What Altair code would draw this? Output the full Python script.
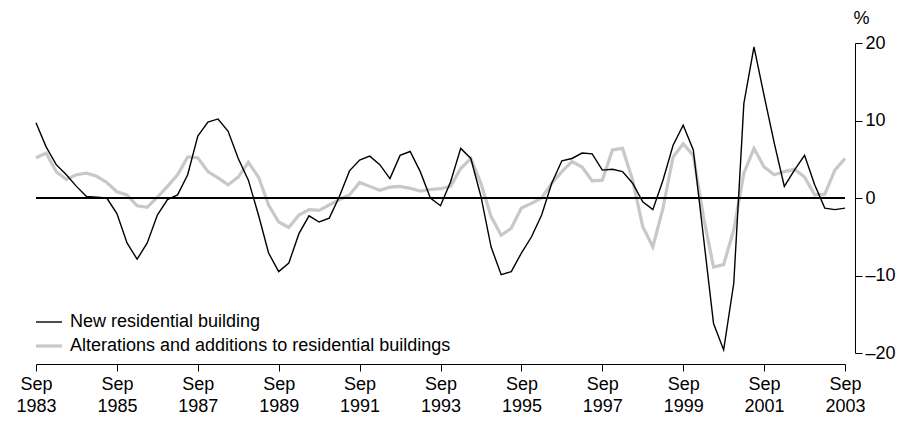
import altair as alt
import pandas as pd

series_names = ["New residential building",
                "Alterations and additions to residential buildings"]

# Quarterly, Sep 1983 .. Sep 2003 (81 quarters), % change
new_residential = [
    9.7, 6.6, 4.3, 3.0, 1.5, 0.2, 0.1, 0.0, -2.0, -5.8,
    -7.9, -5.8, -2.2, -0.2, 0.4, 3.0, 8.0, 9.8, 10.2, 8.6,
    5.1, 2.3, -2.2, -7.1, -9.5, -8.4, -4.6, -2.3, -3.1, -2.6,
    0.2, 3.5, 4.9, 5.4, 4.3, 2.5, 5.5, 6.0, 3.4, 0.0,
    -1.0, 2.1, 6.4, 5.1, 0.2, -6.3, -9.9, -9.5, -7.1, -5.0,
    -2.2, 1.9, 4.8, 5.1, 5.8, 5.7, 3.6, 3.7, 3.4, 1.9,
    -0.5, -1.5, 2.3, 6.8, 9.4, 6.2, -5.0, -16.2, -19.6, -11.0,
    12.2, 19.5, 13.2, 7.1, 1.5, 3.6, 5.5, 1.7, -1.3, -1.5,
    -1.3,
]
alterations = [
    5.2, 5.8, 3.4, 2.4, 3.0, 3.2, 2.8, 2.0, 0.8, 0.4,
    -1.0, -1.2, 0.1, 1.5, 3.0, 5.3, 5.2, 3.4, 2.6, 1.7,
    2.7, 4.6, 2.7, -0.9, -3.1, -3.8, -2.2, -1.5, -1.6, -0.9,
    -0.2, 0.4, 2.0, 1.5, 1.0, 1.4, 1.5, 1.25, 0.9, 1.1,
    1.2, 1.5, 3.8, 5.1, 1.9, -2.4, -4.8, -3.9, -1.3, -0.7,
    0.0, 1.9, 3.4, 4.7, 4.0, 2.2, 2.3, 6.2, 6.4, 2.3,
    -3.7, -6.3, -1.3, 5.3, 7.0, 5.5, -2.4, -8.9, -8.6, -4.1,
    3.2, 6.4, 4.0, 3.0, 3.4, 3.7, 2.7, 0.4, 0.5, 3.6,
    5.1,
]
tick_years = ["1983", "1985", "1987", "1989", "1991", "1993",
              "1995", "1997", "1999", "2001", "2003"]
y_ticks = [-20, -10, 0, 10, 20]

quarter_index = list(range(len(new_residential)))

df_new = pd.DataFrame({"q": quarter_index, "value": new_residential,
                       "series": series_names[0]})
df_alt = pd.DataFrame({"q": quarter_index, "value": alterations,
                       "series": series_names[1]})

FONT = "Liberation Sans"
FS = 18

years_js = "[" + ",".join("'" + y + "'" for y in tick_years) + "]"

x_enc = alt.X("q:Q",
              scale=alt.Scale(domain=[0, 80], nice=False, zero=False),
              axis=alt.Axis(values=[i * 8 for i in range(len(tick_years))],
                            labelExpr="['Sep', " + years_js + "[round(datum.value/8)]]",
                            title=None, grid=False, offset=11,
                            domainColor="black", tickColor="black",
                            tickSize=7, labelPadding=4, labelLineHeight=22,
                            labelFont=FONT, labelFontSize=FS, labelColor="black",
                            labelFlush=False))
y_enc = alt.Y("value:Q",
              scale=alt.Scale(domain=[-20, 20], nice=False),
              axis=alt.Axis(orient="right", values=y_ticks, offset=10,
                            grid=False, domainColor="black", tickColor="black",
                            tickSize=7, labelPadding=3,
                            labelExpr="datum.value < 0 ? '\u2013' + abs(datum.value) : '' + datum.value",
                            labelFont=FONT, labelFontSize=FS, labelColor="black",
                            title="%", titleAngle=0, titleAlign="center",
                            titleBaseline="middle", titleX=6, titleY=-25,
                            titleFont=FONT, titleFontSize=FS,
                            titleFontWeight="normal", titleColor="black"))

color_scale = alt.Scale(domain=series_names, range=["black", "#c8c8c8"])
width_scale = alt.Scale(domain=series_names, range=[1.4, 3.2])
legend = alt.Legend(title=None, orient="none", legendX=-2, legendY=265,
                    symbolType="stroke", symbolSize=676, labelFont=FONT,
                    labelFontSize=FS, labelColor="black", labelOffset=6,
                    labelLimit=0, rowPadding=-7, padding=0,
                    direction="vertical")

grey_line = alt.Chart(df_alt).mark_line().encode(
    x=x_enc, y=y_enc,
    color=alt.Color("series:N", scale=color_scale, legend=legend),
    strokeWidth=alt.StrokeWidth("series:N", scale=width_scale, legend=legend),
)
black_line = alt.Chart(df_new).mark_line().encode(
    x=x_enc, y=y_enc,
    color=alt.Color("series:N", scale=color_scale, legend=legend),
    strokeWidth=alt.StrokeWidth("series:N", scale=width_scale, legend=legend),
)
zero_rule = alt.Chart(df_new).mark_rule(color="black", strokeWidth=1).encode(
    y=alt.datum(0)
)

chart = alt.layer(grey_line, zero_rule, black_line).properties(
    width=809, height=310,
    background="white",
    autosize=alt.AutoSizeParams(type="none"),
    padding={"left": 28, "top": 35, "right": 52, "bottom": 62},
).configure_view(stroke=None)

chart.save("out.html", embed_options={"renderer": "svg", "actions": False})
